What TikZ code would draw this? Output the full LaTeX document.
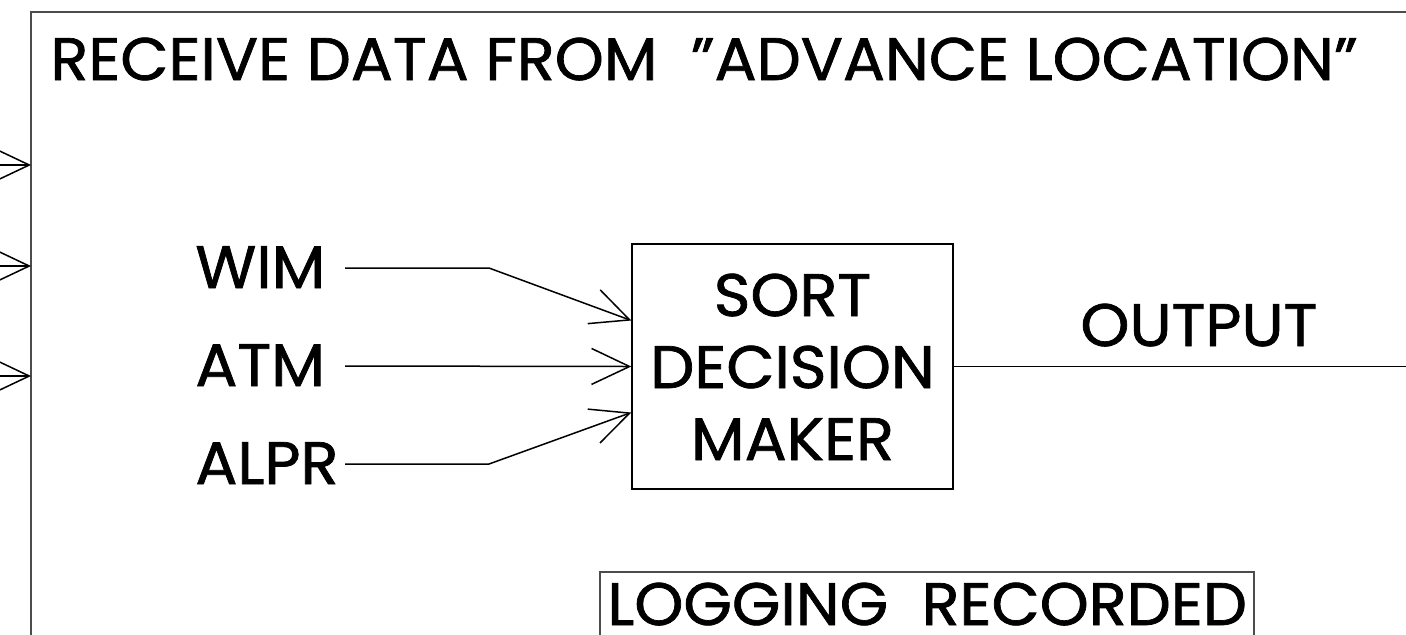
\documentclass[tikz,border=0pt]{standalone}
\usepackage{fontspec}
\setmainfont{Poppins}[FakeBold=1.2, FakeStretch=1.04]
\usetikzlibrary{arrows.meta}
\tikzset{
  lbl/.style={inner sep=0pt, anchor=base west, font=\fontsize{30pt}{34pt}\selectfont},
  ctr/.style={inner sep=0pt, anchor=base, font=\fontsize{30pt}{34pt}\selectfont},
  frame/.style={draw=black!70, line width=1pt},
  wire/.style={draw=black, line width=0.75pt},
  barb/.style={-{Straight Barb[length=19pt, width=18pt, line width=0.75pt]}},
}
\begin{document}
\begin{tikzpicture}[x=0.5pt, y=-0.5pt]
\useasboundingbox (0,0) rectangle (1406,634);
\clip (0,0) rectangle (1406,634);
\fill[white] (0,0) rectangle (1406,634);
% outer frame
\coordinate (ftl) at (31,12);
\coordinate (fbl) at (31,640);
\coordinate (ftr) at (1410,12);
\draw[frame] (fbl) -- (ftl) -- (ftr);
% title
\node[lbl] (title) at (50,80) {RECEIVE DATA FROM \ ”ADVANCE LOCATION”};
% left incoming arrows
\coordinate (in1s) at (-20,165); \coordinate (in1) at (31,165);
\coordinate (in2s) at (-20,266); \coordinate (in2) at (31,266);
\coordinate (in3s) at (-20,376); \coordinate (in3) at (31,376);
\draw[wire,barb] (in1s) -- (in1);
\draw[wire,barb] (in2s) -- (in2);
\draw[wire,barb] (in3s) -- (in3);
% input labels
\node[lbl] (wim) at (195,288) {WIM};
\node[lbl] (atm) at (195,386) {ATM};
\node[lbl] (alpr) at (195,484) {ALPR};
% sort box
\node[draw=black, line width=0.75pt, minimum width=321*0.5pt, minimum height=245*0.5pt, inner sep=0pt] (sort) at (792.5,366.5) {};
\node[ctr] (l1) at (792.5,316) {SORT};
\node[ctr] (l2) at (792.5,388) {DECISION};
\node[ctr] (l3) at (792.5,460) {MAKER};
% wires into sort box
\coordinate (wimS) at (345,268); \coordinate (wimB) at (489,268);
\coordinate (atmS) at (345,366);
\coordinate (alprS) at (345,464); \coordinate (alprB) at (489,464);
\draw[wire,barb] (wimS) -- (wimB) -- ([yshift=23pt]sort.west);
\draw[wire,barb] (atmS) -- (sort.west);
\draw[wire,barb] (alprS) -- (alprB) -- ([yshift=-23pt]sort.west);
% output
\coordinate (outE) at (1410,366.5);
\draw[wire] (sort.east) -- (outE);
\node[lbl] (out) at (1080,346) {OUTPUT};
% logging box
\node[lbl] (log) at (607,625) {LOGGING \ RECORDED};
\coordinate (lgBL) at (600,640);
\coordinate (lgTL) at (600,572);
\draw[frame] (lgBL) -- (lgTL) -- ([xshift=3.5pt]lgTL -| log.east) -- ([xshift=3.5pt]lgBL -| log.east);
\end{tikzpicture}
\end{document}
